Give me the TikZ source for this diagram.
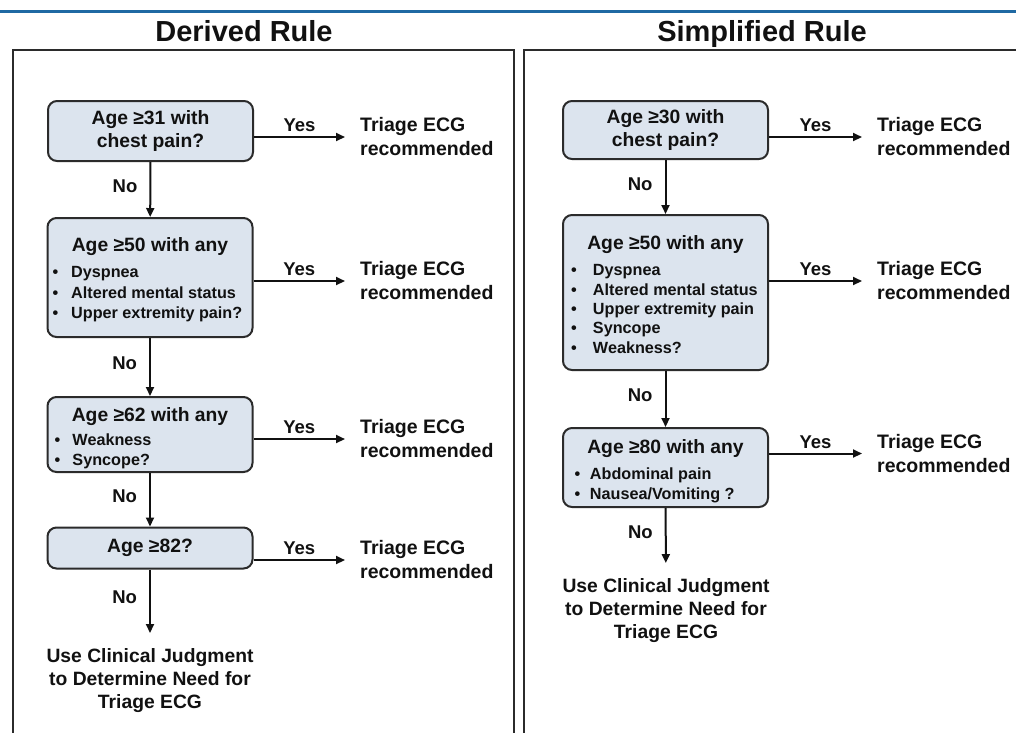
\documentclass[tikz,border=0pt]{standalone}
\usepackage{fontspec}
\setmainfont{Liberation Sans}
\usetikzlibrary{arrows.meta}

\definecolor{boxfill}{HTML}{DCE4EE}
\definecolor{boxline}{HTML}{2B2B2B}
\definecolor{rulebar}{HTML}{1F69A3}
\definecolor{ink}{HTML}{111111}

% Content of a decision box with a heading and a bullet list:
% #1 box height, #2 heading baseline below the top edge, #3 heading,
% #4 bullet indent, #5 bullet-to-text distance, #6 line pitch, #7 items (\itm{...})
\newcommand{\dtext}[8][26pt]{%
  \parbox[c][#2][t]{205pt}{\setlength{\parindent}{0pt}%
    \fontsize{19.3}{23}\selectfont
    \makebox[205pt][c]{\rule{0pt}{#3}#4}\par
    \fontsize{16.2}{#7}\selectfont
    \vspace{\dimexpr #1-#7\relax}%
    \def\itm##1{\hspace*{#5}\makebox[#6][l]{\textbullet}##1\par}%
    #8}}

\tikzset{
  decision/.style={draw=boxline, line width=2pt, fill=boxfill, rounded corners=9pt,
    minimum width=205pt, inner sep=0pt, text=ink,
    font=\bfseries\fontsize{19.3}{23}\selectfont},
  question/.style={decision, align=center},
  outcome/.style={anchor=west, inner xsep=15pt, inner ysep=0pt, align=left, text=ink,
    font=\bfseries\fontsize{19.5}{24}\selectfont},
  final/.style={anchor=north, inner xsep=0pt, inner ysep=15pt, align=center, text=ink,
    font=\bfseries\fontsize{19.3}{23.3}\selectfont},
  flow/.style={draw=ink, line width=2pt, -{Triangle[length=9pt,width=8pt]}},
  yeslbl/.style={above, inner sep=4pt, text=ink, font=\bfseries\fontsize{18.5}{20}\selectfont},
  nolbl/.style={left, pos=0.44, inner sep=12pt, text=ink, font=\bfseries\fontsize{18.5}{20}\selectfont},
  panel/.style={draw=boxline, line width=2.5pt},
  heading/.style={anchor=base, text=ink, font=\bfseries\fontsize{29}{32}\selectfont}
}

\begin{document}
\begin{tikzpicture}[x=1pt,y=-1pt]
\useasboundingbox (0,0) rectangle (1016,732);

% top rule and the two panels
\draw[rulebar, line width=3pt] (0,11) -- (1016,11);
\node[heading] (hL) at (244,41) {Derived Rule};
\node[heading] (hR) at (762,41) {Simplified Rule};
\draw[panel] (13,745) -- (13,50) -- (514,50) -- (514,745);
\draw[panel] (524,745) -- (524,50) -- (1025,50);

% ---------- Derived rule ----------
\node[question, minimum height=60pt] (L1) at (150.5,131) {Age ≥31 with\\chest pain?};
\node[decision, minimum height=119pt] (L2) at (150,277.5)
  {\dtext{119pt}{33.5pt}{Age ≥50 with any}{5.2pt}{18.5pt}{20.5pt}
    {\itm{Dyspnea}\itm{Altered mental status}\itm{Upper extremity pain?}}};
\node[decision, minimum height=75pt] (L3) at (150,434.5)
  {\dtext[24pt]{75pt}{24pt}{Age ≥62 with any}{7.2pt}{17.8pt}{20pt}
    {\itm{Weakness}\itm{Syncope?}}};
\node[question, minimum height=41pt] (L4) at (150,548) {Age ≥82?};
\node[final] (LF) at (150,633) {Use Clinical Judgment\\to Determine Need for\\Triage ECG};

\node[outcome] (TL1) at (345,137) {Triage ECG\\recommended};
\node[outcome] (TL2) at (345,281) {Triage ECG\\recommended};
\node[outcome] (TL3) at (345,439) {Triage ECG\\recommended};
\node[outcome] (TL4) at (345,560) {Triage ECG\\recommended};

\foreach \b in {1,2,3,4}
  \draw[flow] (L\b.east |- TL\b.west) -- node[yeslbl] {Yes} (TL\b.west);
\draw[flow] (L1) -- node[nolbl] {No} (L2);
\draw[flow] (L2) -- node[nolbl] {No} (L3);
\draw[flow] (L3) -- node[nolbl] {No} (L4);
\draw[flow] (L4) -- node[nolbl] {No} (LF);

% ---------- Simplified rule ----------
\node[question, minimum height=58pt] (R1) at (665.5,130) {Age ≥30 with\\chest pain?};
\node[decision, minimum height=155pt] (R2) at (665.5,292.5)
  {\dtext{155pt}{34.8pt}{Age ≥50 with any}{8.2pt}{21.8pt}{19.3pt}
    {\itm{Dyspnea}\itm{Altered mental status}\itm{Upper extremity pain}\itm{Syncope}\itm{Weakness?}}};
\node[decision, minimum height=79pt] (R3) at (665.5,467.5)
  {\dtext{79pt}{25.2pt}{Age ≥80 with any}{11.5pt}{15.5pt}{20pt}
    {\itm{Abdominal pain}\itm{Nausea/Vomiting ?}}};
\node[final] (RF) at (666,563) {Use Clinical Judgment\\to Determine Need for\\Triage ECG};

\node[outcome] (TR1) at (862,137) {Triage ECG\\recommended};
\node[outcome] (TR2) at (862,281) {Triage ECG\\recommended};
\node[outcome] (TR3) at (862,453.5) {Triage ECG\\recommended};

\foreach \b in {1,2,3}
  \draw[flow] (R\b.east |- TR\b.west) -- node[yeslbl] {Yes} (TR\b.west);
\draw[flow] (R1) -- node[nolbl] {No} (R2);
\draw[flow] (R2) -- node[nolbl] {No} (R3);
\draw[flow] (R3) -- node[nolbl] {No} (RF);
\end{tikzpicture}
\end{document}
